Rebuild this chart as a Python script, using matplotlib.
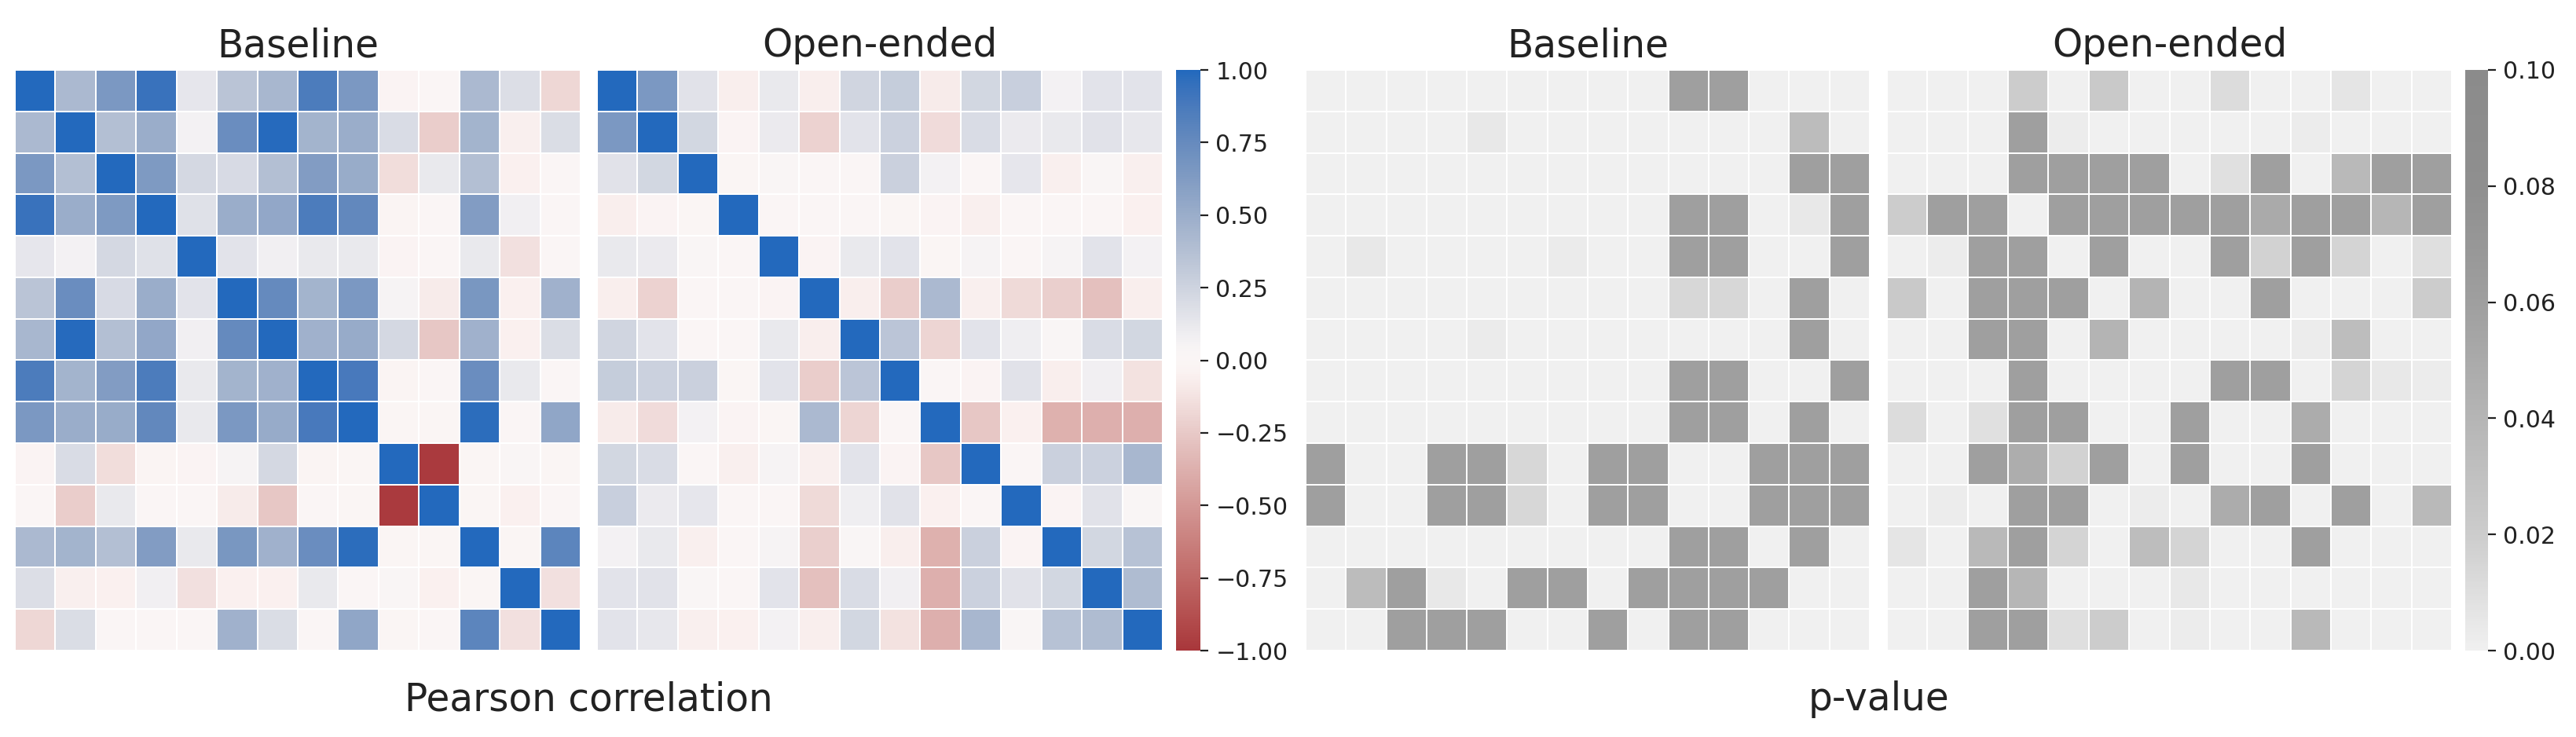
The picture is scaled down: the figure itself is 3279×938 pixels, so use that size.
import matplotlib
matplotlib.use("Agg")
import matplotlib.pyplot as plt
import numpy as np
import seaborn as sns
from matplotlib.colors import LinearSegmentedColormap
from matplotlib.ticker import FuncFormatter

# titoli e etichette
titles = ["Baseline", "Open-ended"]
corr_label = "Pearson correlation"
pval_label = "p-value"
corr_ticks = [-1.0, -0.75, -0.5, -0.25, 0.0, 0.25, 0.5, 0.75, 1.0]
pval_ticks = [0.0, 0.02, 0.04, 0.06, 0.08, 0.10]

# matrici di correlazione (14 x 14)
baseline_corr = [
    [1.00, 0.42, 0.65, 0.93, 0.14, 0.35, 0.43, 0.86, 0.65, -0.03, 0.01, 0.42, 0.18, -0.18],
    [0.42, 1.00, 0.38, 0.50, 0.07, 0.73, 0.99, 0.46, 0.50, 0.20, -0.23, 0.46, -0.06, 0.19],
    [0.65, 0.38, 1.00, 0.64, 0.22, 0.21, 0.38, 0.62, 0.51, -0.15, 0.12, 0.38, -0.05, 0.00],
    [0.93, 0.50, 0.64, 1.00, 0.17, 0.50, 0.54, 0.86, 0.77, -0.02, 0.00, 0.62, 0.08, 0.01],
    [0.14, 0.07, 0.22, 0.17, 1.00, 0.15, 0.08, 0.12, 0.12, -0.03, 0.01, 0.12, -0.14, 0.01],
    [0.35, 0.73, 0.21, 0.50, 0.15, 1.00, 0.75, 0.46, 0.65, 0.05, -0.08, 0.66, -0.05, 0.47],
    [0.43, 0.99, 0.38, 0.54, 0.08, 0.75, 1.00, 0.47, 0.52, 0.22, -0.26, 0.47, -0.05, 0.19],
    [0.86, 0.46, 0.62, 0.86, 0.12, 0.46, 0.47, 1.00, 0.88, -0.02, 0.00, 0.73, 0.12, 0.01],
    [0.65, 0.50, 0.51, 0.77, 0.12, 0.65, 0.52, 0.88, 1.00, -0.01, -0.01, 0.97, 0.00, 0.55],
    [-0.03, 0.20, -0.15, -0.02, -0.03, 0.05, 0.22, -0.02, -0.01, 1.00, -0.98, -0.01, 0.02, -0.01],
    [0.01, -0.23, 0.12, 0.00, 0.01, -0.08, -0.26, 0.00, -0.01, -0.98, 1.00, -0.01, -0.05, 0.00],
    [0.42, 0.46, 0.38, 0.62, 0.12, 0.66, 0.47, 0.73, 0.97, -0.01, -0.01, 1.00, -0.01, 0.79],
    [0.18, -0.06, -0.05, 0.08, -0.14, -0.05, -0.05, 0.12, 0.00, 0.02, -0.05, -0.01, 1.00, -0.14],
    [-0.18, 0.19, 0.00, 0.01, 0.01, 0.47, 0.19, 0.01, 0.55, -0.01, 0.00, 0.79, -0.14, 1.00],
]

open_corr = [
    [1.00, 0.65, 0.16, -0.07, 0.12, -0.07, 0.24, 0.29, -0.08, 0.23, 0.28, 0.07, 0.15, 0.15],
    [0.65, 1.00, 0.23, -0.03, 0.11, -0.21, 0.15, 0.26, -0.16, 0.20, 0.11, 0.12, 0.16, 0.13],
    [0.16, 0.23, 1.00, -0.01, 0.02, 0.00, 0.00, 0.27, 0.07, 0.00, 0.14, -0.06, 0.02, -0.06],
    [-0.07, -0.03, -0.01, 1.00, 0.00, 0.00, 0.00, -0.01, -0.03, -0.06, 0.00, 0.00, 0.01, -0.05],
    [0.12, 0.11, 0.02, 0.00, 1.00, -0.03, 0.12, 0.15, -0.01, 0.05, 0.01, 0.05, 0.15, 0.07],
    [-0.07, -0.21, 0.00, 0.00, -0.03, 1.00, -0.07, -0.23, 0.42, -0.06, -0.17, -0.22, -0.29, -0.07],
    [0.24, 0.15, 0.00, 0.00, 0.12, -0.07, 1.00, 0.34, -0.19, 0.15, 0.09, 0.03, 0.20, 0.23],
    [0.29, 0.26, 0.27, -0.01, 0.15, -0.23, 0.34, 1.00, 0.00, -0.03, 0.16, -0.07, 0.08, -0.13],
    [-0.08, -0.16, 0.07, -0.03, -0.01, 0.42, -0.19, 0.00, 1.00, -0.26, -0.05, -0.37, -0.38, -0.38],
    [0.23, 0.20, 0.00, -0.06, 0.05, -0.06, 0.15, -0.03, -0.26, 1.00, 0.00, 0.27, 0.26, 0.43],
    [0.28, 0.11, 0.14, 0.00, 0.01, -0.17, 0.09, 0.16, -0.05, 0.00, 1.00, -0.03, 0.16, 0.03],
    [0.07, 0.12, -0.06, 0.00, 0.05, -0.22, 0.03, -0.07, -0.37, 0.27, -0.03, 1.00, 0.23, 0.36],
    [0.15, 0.16, 0.02, 0.01, 0.15, -0.29, 0.20, 0.08, -0.38, 0.26, 0.16, 0.23, 1.00, 0.40],
    [0.15, 0.13, -0.06, -0.05, 0.07, -0.07, 0.23, -0.13, -0.38, 0.43, 0.03, 0.36, 0.40, 1.00],
]

# p-value corrispondenti
baseline_p = [
    [0, 0, 0, 0, 0, 0, 0, 0, 0, 0.06, 0.06, 0, 0, 0],
    [0, 0, 0, 0, 0.005, 0, 0, 0, 0, 0, 0, 0, 0.034, 0],
    [0, 0, 0, 0, 0, 0, 0, 0, 0, 0, 0, 0, 0.06, 0.06],
    [0, 0, 0, 0, 0, 0, 0, 0, 0, 0.06, 0.06, 0, 0.005, 0.06],
    [0, 0.005, 0, 0, 0, 0, 0.003, 0, 0, 0.06, 0.06, 0, 0, 0.06],
    [0, 0, 0, 0, 0, 0, 0, 0, 0, 0.014, 0.014, 0, 0.06, 0],
    [0, 0, 0, 0, 0.003, 0, 0, 0, 0, 0, 0, 0, 0.06, 0],
    [0, 0, 0, 0, 0, 0, 0, 0, 0, 0.06, 0.06, 0, 0, 0.06],
    [0, 0, 0, 0, 0, 0, 0, 0, 0, 0.06, 0.06, 0, 0.06, 0],
    [0.06, 0, 0, 0.06, 0.06, 0.014, 0, 0.06, 0.06, 0, 0, 0.06, 0.06, 0.06],
    [0.06, 0, 0, 0.06, 0.06, 0.014, 0, 0.06, 0.06, 0, 0, 0.06, 0.06, 0.06],
    [0, 0, 0, 0, 0, 0, 0, 0, 0, 0.06, 0.06, 0, 0.06, 0],
    [0, 0.034, 0.06, 0.005, 0, 0.06, 0.06, 0, 0.06, 0.06, 0.06, 0.06, 0, 0],
    [0, 0, 0.06, 0.06, 0.06, 0, 0, 0.06, 0, 0.06, 0.06, 0, 0, 0],
]

open_p = [
    [0, 0, 0, 0.020, 0, 0.023, 0, 0, 0.011, 0, 0, 0.006, 0, 0],
    [0, 0, 0, 0.06, 0.002, 0, 0, 0, 0, 0, 0.002, 0, 0, 0],
    [0, 0, 0, 0.06, 0.06, 0.06, 0.06, 0, 0.009, 0.06, 0, 0.037, 0.06, 0.06],
    [0.020, 0.06, 0.06, 0, 0.06, 0.06, 0.06, 0.06, 0.06, 0.050, 0.06, 0.06, 0.039, 0.06],
    [0, 0.002, 0.06, 0.06, 0, 0.06, 0, 0, 0.06, 0.017, 0.06, 0.016, 0, 0.0095],
    [0.023, 0, 0.06, 0.06, 0.06, 0, 0.041, 0, 0, 0.06, 0, 0, 0, 0.020],
    [0, 0, 0.06, 0.06, 0, 0.041, 0, 0, 0, 0, 0.002, 0.033, 0, 0],
    [0, 0, 0, 0.06, 0, 0, 0, 0, 0.06, 0.06, 0, 0.016, 0.005, 0.002],
    [0.011, 0, 0.009, 0.06, 0.06, 0, 0, 0.06, 0, 0, 0.048, 0, 0, 0],
    [0, 0, 0.06, 0.047, 0.017, 0.06, 0, 0.06, 0, 0, 0.06, 0, 0, 0],
    [0, 0.002, 0, 0.06, 0.06, 0, 0.002, 0, 0.048, 0.06, 0, 0.06, 0, 0.037],
    [0.006, 0, 0.037, 0.06, 0.016, 0, 0.033, 0.016, 0, 0, 0.06, 0, 0, 0],
    [0, 0, 0.06, 0.039, 0, 0, 0, 0.005, 0, 0, 0, 0, 0, 0],
    [0, 0, 0.06, 0.06, 0.0095, 0.020, 0, 0.002, 0, 0, 0.037, 0, 0, 0],
]

TEXT_COLOR = "#222222"
plt.rcParams["font.family"] = ["DejaVu Sans"]

# scala di grigi per i p-value
grey_cmap = LinearSegmentedColormap.from_list(
    "pgrey",
    [(0.0, "#f0f0f0"), (0.2, "#cccccc"), (0.4, "#b5b5b5"),
     (0.6, "#9f9f9f"), (0.8, "#8f8f8f"), (1.0, "#8b8b8b")],
)


def meno(v, pos):
    return f"{v:.2f}".replace("-", "\u2212")


W, H = 3279, 938
fig = plt.figure(figsize=(W / 200, H / 200), dpi=200)


def box(x0, x1, y0=89, y1=828):
    return [x0 / W, 1 - y1 / H, (x1 - x0) / W, (y1 - y0) / H]


ax1 = fig.add_axes(box(19, 739))
ax2 = fig.add_axes(box(760, 1480))
cax1 = fig.add_axes(box(1497, 1528))
ax3 = fig.add_axes(box(1662, 2380))
ax4 = fig.add_axes(box(2402, 3121))
cax2 = fig.add_axes(box(3138, 3167))

comune = dict(linewidths=0.7, linecolor="white", xticklabels=False, yticklabels=False)

sns.heatmap(np.array(baseline_corr), ax=ax1, cmap="vlag_r", vmin=-1, vmax=1, cbar=False, **comune)
sns.heatmap(np.array(open_corr), ax=ax2, cmap="vlag_r", vmin=-1, vmax=1, cbar_ax=cax1,
            cbar_kws={"ticks": corr_ticks, "format": FuncFormatter(meno)}, **comune)
sns.heatmap(np.array(baseline_p), ax=ax3, cmap=grey_cmap, vmin=0, vmax=0.1, cbar=False, **comune)
sns.heatmap(np.array(open_p), ax=ax4, cmap=grey_cmap, vmin=0, vmax=0.1, cbar_ax=cax2,
            cbar_kws={"ticks": pval_ticks, "format": FuncFormatter(meno)}, **comune)

for ax, t in zip([ax1, ax2, ax3, ax4], titles * 2):
    ax.set_title(t, fontsize=17.5, color=TEXT_COLOR, pad=6)

for cax in [cax1, cax2]:
    cax.tick_params(labelsize=10.8, length=3.5, width=0.8, colors=TEXT_COLOR)

fig.text((19 + 1480) / 2 / W, 1 - 904 / H, corr_label, ha="center", va="baseline",
         fontsize=17.5, color=TEXT_COLOR)
fig.text((1662 + 3121) / 2 / W, 1 - 904 / H, pval_label, ha="center", va="baseline",
         fontsize=17.5, color=TEXT_COLOR)

fig.savefig("out.png", dpi=200)
plt.close(fig)
